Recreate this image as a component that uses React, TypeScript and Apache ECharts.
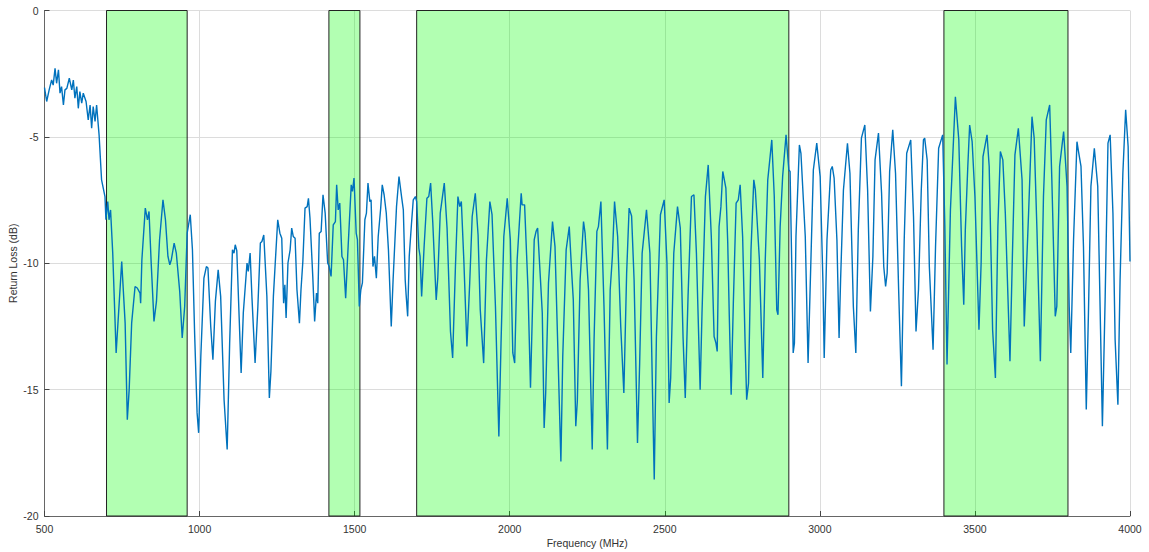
import React, { useEffect, useRef } from "react";
import * as echarts from "echarts";

const freqMHz: number[] = [
  500, 507, 515, 523, 528, 534, 539, 545, 550, 555, 561, 566, 572, 580, 588, 593, 598, 604, 609, 614, 620, 625, 634, 641, 647, 652, 657, 663, 668, 676, 684, 695, 698, 704, 708, 713, 720, 731, 749, 760, 767, 773, 781, 792, 799, 808,
  810, 814, 825, 832, 837, 844, 853, 861, 871, 882, 890, 898, 904, 909, 918, 925, 936, 944, 952, 960, 970, 977, 984, 992, 997, 1004, 1014, 1022, 1027, 1036, 1043, 1051, 1060, 1068, 1079, 1089, 1097, 1106, 1111, 1115, 1120,
  1134, 1141, 1153, 1157, 1163, 1169, 1179, 1188, 1196, 1201, 1207, 1217, 1225, 1230, 1238, 1244, 1252, 1259, 1265, 1271, 1275, 1279, 1285, 1292, 1297, 1302, 1308, 1314, 1322, 1327, 1333, 1340, 1347, 1351, 1356, 1365, 1371, 1377, 1381, 1386, 1392, 1398, 1405, 1413, 1418, 1424, 1431, 1438,
  1442, 1447, 1452, 1459, 1464, 1471, 1479, 1489, 1493, 1498, 1505, 1509, 1515, 1520, 1525, 1533, 1538, 1543, 1549, 1553, 1559, 1564, 1570, 1576, 1584, 1589, 1595, 1602, 1609, 1618, 1624, 1630, 1635, 1643, 1652, 1657, 1663, 1666, 1671, 1676, 1683, 1689, 1696, 1700, 1707, 1711, 1716, 1724, 1733, 1739, 1745, 1752,
  1760, 1763, 1768, 1776, 1789, 1798, 1809, 1816, 1825, 1833, 1839, 1844, 1852, 1862, 1871, 1879, 1889, 1898, 1905, 1916, 1925, 1936, 1943, 1954, 1965, 1972, 1981, 1992, 2002, 2010, 2016, 2024, 2037, 2040, 2048, 2059, 2067,
  2079, 2085, 2090, 2098, 2105, 2111, 2116, 2125, 2132, 2138, 2146, 2155, 2165, 2171, 2182, 2192, 2200, 2205, 2213, 2218, 2227, 2238, 2243, 2254, 2266, 2272, 2281, 2286, 2294, 2304, 2315, 2324, 2331, 2338, 2348, 2358, 2368, 2377, 2385,
  2393, 2401, 2412, 2419, 2427, 2441, 2452, 2459, 2466, 2473, 2486, 2498, 2507, 2514, 2519, 2529, 2541, 2550, 2559, 2566, 2575, 2586, 2594, 2602, 2614, 2620, 2631, 2640, 2650, 2659, 2665, 2669, 2675, 2681, 2687, 2697,
  2703, 2708, 2714, 2721, 2730, 2737, 2743, 2751, 2759, 2764, 2770, 2778, 2787, 2792, 2805, 2816, 2824, 2832, 2845, 2853, 2861, 2865, 2872, 2880, 2891, 2900, 2904, 2910, 2914, 2918, 2923, 2934, 2939, 2953, 2962, 2968, 2979, 2990, 3001, 3010, 3014,
  3023, 3035, 3040, 3046, 3055, 3062, 3067, 3076, 3089, 3097, 3108, 3116, 3124, 3134, 3145, 3154, 3163, 3171, 3178, 3189, 3199, 3206, 3212, 3217, 3225, 3235, 3244, 3254, 3263, 3272, 3280, 3293, 3302, 3310, 3318, 3327, 3334,
  3338, 3346, 3353, 3365, 3373, 3383, 3396, 3403, 3410, 3421, 3437, 3448, 3457, 3464, 3469, 3477, 3483, 3491, 3500, 3513, 3520, 3526, 3539, 3546, 3557, 3566, 3574, 3582, 3590, 3598, 3613, 3621, 3629, 3640, 3652,
  3659, 3673, 3684, 3691, 3700, 3711, 3721, 3730, 3741, 3748, 3759, 3764, 3773, 3786, 3797, 3804, 3809, 3818, 3829, 3834, 3842, 3850, 3859, 3866, 3874, 3885, 3896, 3905, 3911, 3920, 3929, 3936, 3945, 3952, 3961, 3968, 3977, 3986, 3994, 4000,
];

const returnLossDb: number[] = [
  -3.05, -3.6, -3.14, -2.75, -2.95, -2.29, -2.88, -2.35, -3.27, -3.01, -3.74, -3.14, -3.08, -2.68, -3.14, -2.75, -3.47, -3.01, -3.87, -3.21, -3.67, -3.27, -3.6, -4.33, -3.74, -4.66, -3.8, -4.39, -3.74, -4.92, -6.7, -7.36, -8.28, -7.56, -8.28, -7.89, -9.6, -13.55, -9.93, -12.37, -16.19, -15.0, -12.37, -10.92, -10.98, -11.18,
  -11.58, -9.86, -7.82, -8.28, -7.95, -9.99, -12.3, -11.51, -9.07, -7.49, -8.28, -9.73, -10.06, -9.86, -9.2, -9.6, -11.12, -12.96, -11.71, -8.81, -8.08, -9.47, -12.76, -15.92, -16.71, -13.69, -10.59, -10.13, -10.19, -12.5, -13.82, -11.51, -10.26, -11.31, -15.4, -17.37, -13.16, -9.47, -9.6, -9.27, -9.5,
  -14.34, -11.97, -9.99, -10.32, -9.6, -11.38, -13.95, -11.71, -9.2, -9.14, -8.88, -11.31, -15.33, -14.28, -11.31, -9.99, -8.28, -8.81, -9.01, -11.58, -10.85, -12.17, -9.99, -9.47, -8.61, -8.94, -9.01, -11.05, -12.37, -11.05, -9.93, -7.82, -7.76, -7.43, -8.21, -10.52, -12.3, -11.18, -11.58, -8.81, -8.74, -7.29, -8.02, -9.99, -10.13, -10.52, -8.48, -8.35,
  -6.9, -7.89, -7.62, -9.73, -9.86, -11.38, -9.34, -6.9, -7.16, -6.63, -8.81, -9.07, -11.71, -11.05, -10.78, -8.28, -8.02, -6.83, -7.56, -7.49, -10.13, -9.73, -10.59, -8.94, -7.82, -6.9, -7.29, -8.02, -9.47, -12.5, -10.65, -9.07, -7.76, -6.57, -7.43, -7.89, -10.65, -11.25, -12.1, -9.73, -8.48, -7.49, -7.36, -7.56, -9.4, -9.73, -11.31, -9.34, -7.43, -7.36, -6.83, -8.41,
  -10.65, -11.45, -10.59, -8.02, -6.83, -8.61, -12.7, -13.75, -10.13, -7.36, -7.76, -7.56, -9.86, -13.29, -10.78, -8.15, -7.23, -8.88, -11.84, -13.95, -9.86, -7.56, -8.08, -11.71, -16.85, -13.16, -8.94, -7.43, -9.07, -13.55, -13.95, -9.86, -7.23, -7.69, -7.69, -11.05, -14.93,
  -9.07, -8.74, -8.61, -10.39, -11.97, -16.52, -15.13, -10.78, -9.47, -8.35, -9.34, -13.29, -17.84, -13.69, -9.47, -8.55, -10.39, -11.45, -16.45, -15.46, -10.65, -8.35, -8.81, -11.05, -17.37, -13.02, -8.74, -8.55, -7.56, -11.71, -17.37, -11.05, -9.73, -7.56, -8.94, -12.5, -15.13, -10.39, -7.82,
  -8.13, -10.65, -17.11, -13.95, -9.6, -7.89, -9.6, -14.21, -18.56, -12.9, -8.08, -7.49, -9.99, -15.53, -14.54, -9.6, -7.76, -8.61, -12.96, -15.33, -11.31, -7.36, -7.29, -9.6, -15.0, -11.97, -7.36, -6.11, -8.94, -12.9, -13.16, -13.49, -8.55, -7.76, -6.37, -7.03,
  -9.2, -12.1, -15.2, -11.58, -7.62, -7.49, -6.9, -8.94, -13.16, -15.4, -14.74, -9.47, -6.7, -7.1, -9.86, -14.54, -9.86, -6.7, -5.12, -7.36, -11.84, -12.04, -8.55, -6.57, -4.92, -6.31, -6.37, -10.52, -13.55, -13.16, -8.94, -5.32, -5.65, -8.94, -13.95, -11.31, -6.31, -5.25, -6.57, -10.78, -13.75,
  -9.07, -6.31, -6.17, -6.63, -9.07, -12.96, -10.59, -7.1, -5.25, -6.44, -11.71, -13.55, -8.68, -5.05, -4.53, -7.1, -11.91, -9.73, -5.91, -4.85, -7.23, -10.13, -10.92, -10.39, -6.37, -4.72, -6.44, -11.05, -14.87, -9.07, -5.65, -5.12, -8.15, -12.7, -11.05, -7.1, -5.12,
  -5.05, -5.91, -10.13, -13.42, -9.34, -5.45, -4.92, -8.55, -14.01, -7.89, -3.41, -5.12, -9.34, -11.64, -8.68, -6.17, -4.53, -5.19, -7.36, -12.63, -9.99, -5.78, -4.92, -6.17, -12.63, -14.54, -8.55, -5.58, -5.91, -8.02, -13.88, -9.6, -5.71, -4.66, -6.7,
  -12.5, -8.02, -4.2, -5.05, -8.68, -13.88, -7.36, -4.33, -3.74, -6.7, -12.1, -11.71, -6.17, -4.79, -6.96, -11.71, -13.55, -9.07, -5.19, -5.58, -6.17, -9.34, -15.79, -11.97, -6.96, -5.45, -6.96, -12.63, -16.45, -11.31, -5.25, -4.92, -8.02, -13.02, -15.6, -10.65, -6.44, -3.93, -5.38, -9.93,
];

const bandStartMHz: number[] = [700, 1417, 1700, 3400];
const bandEndMHz: number[] = [960, 1517, 2900, 3800];

const xTicks = { min: 500, max: 4000, interval: 500 };
const yTicks = { min: -20, max: 0, interval: 5 };

export default function App() {
  const ref = useRef<HTMLDivElement>(null);

  useEffect(() => {
    if (!ref.current) return;
    const chart = echarts.init(ref.current, null, { renderer: "svg" });
    const points = freqMHz.map((f, i) => [f, returnLossDb[i]]);
    const areas = bandStartMHz.map((s, i) => [{ xAxis: s }, { xAxis: bandEndMHz[i] }]);
    const font = "Liberation Sans, Arial, sans-serif";

    chart.setOption({
      animation: false,
      backgroundColor: "#ffffff",
      grid: {
        left: 44.5,
        right: 19,
        top: 10.5,
        bottom: 36,
        containLabel: false,
        outerBoundsMode: "none",
      },
      xAxis: {
        type: "value",
        min: xTicks.min,
        max: xTicks.max,
        interval: xTicks.interval,
        name: "Frequency (MHz)",
        nameLocation: "middle",
        nameGap: 21,
        nameMoveOverlap: false,
        nameTextStyle: { color: "#333", fontSize: 10.5, fontFamily: font },
        axisLine: { show: true, onZero: false, lineStyle: { color: "#666", width: 1 } },
        axisTick: { show: true, inside: true, length: 5, lineStyle: { color: "#444" } },
        axisLabel: {
          color: "#333",
          fontSize: 10.5,
          fontFamily: font,
          margin: 7,
          formatter: (v: number) => String(v),
        },
        splitLine: { show: true, lineStyle: { color: "#dcdcdc", width: 1 } },
      },
      yAxis: {
        type: "value",
        min: yTicks.min,
        max: yTicks.max,
        interval: yTicks.interval,
        name: "Return Loss (dB)",
        nameLocation: "middle",
        nameGap: 26,
        nameMoveOverlap: false,
        nameTextStyle: { color: "#333", fontSize: 10.5, fontFamily: font },
        axisLine: { show: true, onZero: false, lineStyle: { color: "#666", width: 1 } },
        axisTick: { show: true, inside: true, length: 5, lineStyle: { color: "#444" } },
        axisLabel: {
          color: "#333",
          fontSize: 10.5,
          fontFamily: font,
          margin: 6,
          formatter: (v: number) => String(v),
        },
        splitLine: { show: true, lineStyle: { color: "#dcdcdc", width: 1 } },
      },
      series: [
        {
          type: "line",
          data: [],
          z: 1,
          silent: true,
          markArea: {
            silent: true,
            itemStyle: { color: "rgba(0,255,0,0.3)", borderColor: "#222", borderWidth: 1 },
            data: areas,
          },
        },
        {
          type: "line",
          z: 3,
          data: points,
          showSymbol: false,
          symbol: "none",
          lineStyle: { color: "#0072bd", width: 1.4 },
          itemStyle: { color: "#0072bd" },
        },
      ],
    });
    return () => chart.dispose();
  }, []);

  return (
    <div
      ref={ref}
      style={{ position: "fixed", left: 0, top: 0, width: 1149, height: 552 }}
    />
  );
}
